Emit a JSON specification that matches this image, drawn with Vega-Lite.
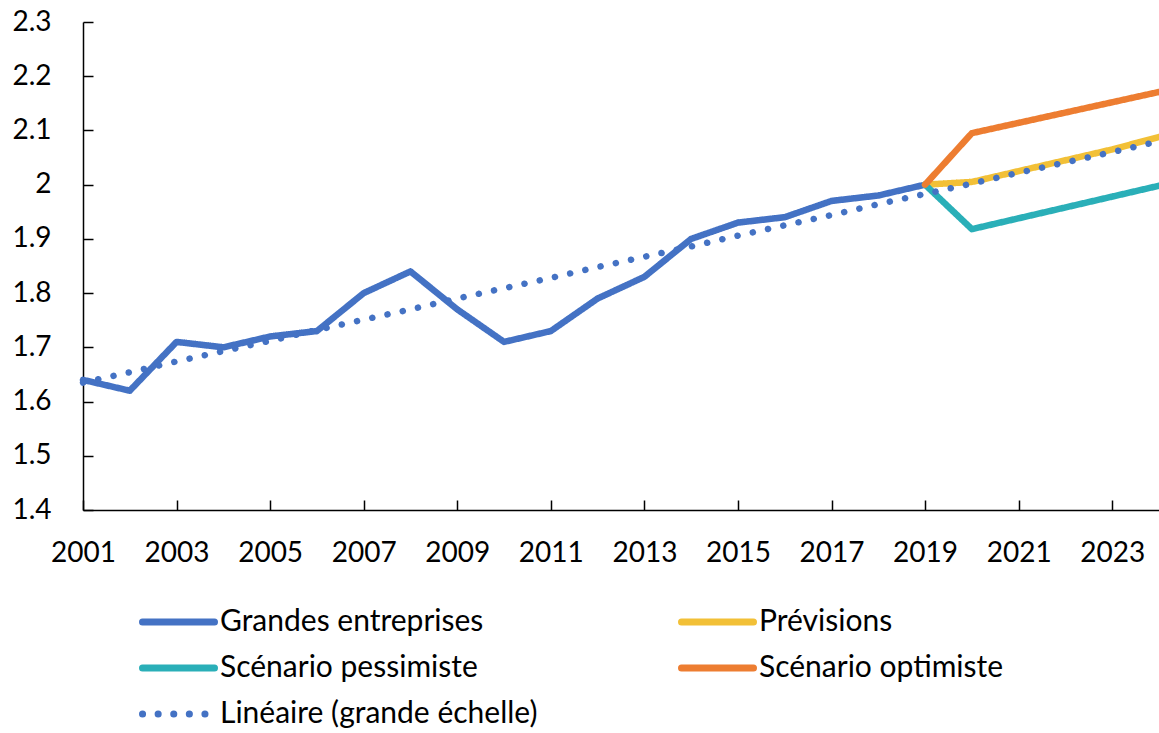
{
  "$schema": "https://vega.github.io/schema/vega-lite/v6.json",
  "width": 1076,
  "height": 488,
  "autosize": {"type": "none"},
  "padding": {"left": 83, "top": 22, "right": 0, "bottom": 223},
  "background": "white",
  "config": {
    "view": {"stroke": null},
    "font": "Lato",
    "axis": {"labelFont": "Lato", "labelFontSize": 28, "labelColor": "#000000", "domainColor": "#000000", "tickColor": "#000000", "domainWidth": 1.5, "tickWidth": 1.5, "grid": false, "title": null},
    "legend": {"labelFont": "Lato", "labelFontSize": 30, "labelColor": "#000000"}
  },
  "data": {
    "values": [
      {"annee": 2001, "valeur": 1.64, "serie": "Grandes entreprises"},
      {"annee": 2002, "valeur": 1.62, "serie": "Grandes entreprises"},
      {"annee": 2003, "valeur": 1.71, "serie": "Grandes entreprises"},
      {"annee": 2004, "valeur": 1.70, "serie": "Grandes entreprises"},
      {"annee": 2005, "valeur": 1.72, "serie": "Grandes entreprises"},
      {"annee": 2006, "valeur": 1.73, "serie": "Grandes entreprises"},
      {"annee": 2007, "valeur": 1.80, "serie": "Grandes entreprises"},
      {"annee": 2008, "valeur": 1.84, "serie": "Grandes entreprises"},
      {"annee": 2009, "valeur": 1.77, "serie": "Grandes entreprises"},
      {"annee": 2010, "valeur": 1.71, "serie": "Grandes entreprises"},
      {"annee": 2011, "valeur": 1.73, "serie": "Grandes entreprises"},
      {"annee": 2012, "valeur": 1.79, "serie": "Grandes entreprises"},
      {"annee": 2013, "valeur": 1.83, "serie": "Grandes entreprises"},
      {"annee": 2014, "valeur": 1.90, "serie": "Grandes entreprises"},
      {"annee": 2015, "valeur": 1.93, "serie": "Grandes entreprises"},
      {"annee": 2016, "valeur": 1.94, "serie": "Grandes entreprises"},
      {"annee": 2017, "valeur": 1.97, "serie": "Grandes entreprises"},
      {"annee": 2018, "valeur": 1.98, "serie": "Grandes entreprises"},
      {"annee": 2019, "valeur": 2.00, "serie": "Grandes entreprises"},
      {"annee": 2019, "valeur": 2.00, "serie": "Prévisions"},
      {"annee": 2020, "valeur": 2.005, "serie": "Prévisions"},
      {"annee": 2021, "valeur": 2.025, "serie": "Prévisions"},
      {"annee": 2022, "valeur": 2.045, "serie": "Prévisions"},
      {"annee": 2023, "valeur": 2.065, "serie": "Prévisions"},
      {"annee": 2024, "valeur": 2.088, "serie": "Prévisions"},
      {"annee": 2019, "valeur": 2.00, "serie": "Scénario pessimiste"},
      {"annee": 2020, "valeur": 1.918, "serie": "Scénario pessimiste"},
      {"annee": 2021, "valeur": 1.938, "serie": "Scénario pessimiste"},
      {"annee": 2022, "valeur": 1.958, "serie": "Scénario pessimiste"},
      {"annee": 2023, "valeur": 1.978, "serie": "Scénario pessimiste"},
      {"annee": 2024, "valeur": 1.998, "serie": "Scénario pessimiste"},
      {"annee": 2019, "valeur": 2.00, "serie": "Scénario optimiste"},
      {"annee": 2020, "valeur": 2.095, "serie": "Scénario optimiste"},
      {"annee": 2021, "valeur": 2.114, "serie": "Scénario optimiste"},
      {"annee": 2022, "valeur": 2.133, "serie": "Scénario optimiste"},
      {"annee": 2023, "valeur": 2.152, "serie": "Scénario optimiste"},
      {"annee": 2024, "valeur": 2.171, "serie": "Scénario optimiste"},
      {"annee": 2001, "valeur": 1.635, "serie": "Linéaire (grande échelle)"},
      {"annee": 2002, "valeur": 1.654, "serie": "Linéaire (grande échelle)"},
      {"annee": 2003, "valeur": 1.674, "serie": "Linéaire (grande échelle)"},
      {"annee": 2004, "valeur": 1.693, "serie": "Linéaire (grande échelle)"},
      {"annee": 2005, "valeur": 1.712, "serie": "Linéaire (grande échelle)"},
      {"annee": 2006, "valeur": 1.732, "serie": "Linéaire (grande échelle)"},
      {"annee": 2007, "valeur": 1.751, "serie": "Linéaire (grande échelle)"},
      {"annee": 2008, "valeur": 1.770, "serie": "Linéaire (grande échelle)"},
      {"annee": 2009, "valeur": 1.790, "serie": "Linéaire (grande échelle)"},
      {"annee": 2010, "valeur": 1.809, "serie": "Linéaire (grande échelle)"},
      {"annee": 2011, "valeur": 1.828, "serie": "Linéaire (grande échelle)"},
      {"annee": 2012, "valeur": 1.848, "serie": "Linéaire (grande échelle)"},
      {"annee": 2013, "valeur": 1.867, "serie": "Linéaire (grande échelle)"},
      {"annee": 2014, "valeur": 1.886, "serie": "Linéaire (grande échelle)"},
      {"annee": 2015, "valeur": 1.906, "serie": "Linéaire (grande échelle)"},
      {"annee": 2016, "valeur": 1.925, "serie": "Linéaire (grande échelle)"},
      {"annee": 2017, "valeur": 1.944, "serie": "Linéaire (grande échelle)"},
      {"annee": 2018, "valeur": 1.964, "serie": "Linéaire (grande échelle)"},
      {"annee": 2019, "valeur": 1.983, "serie": "Linéaire (grande échelle)"},
      {"annee": 2020, "valeur": 2.002, "serie": "Linéaire (grande échelle)"},
      {"annee": 2021, "valeur": 2.022, "serie": "Linéaire (grande échelle)"},
      {"annee": 2022, "valeur": 2.041, "serie": "Linéaire (grande échelle)"},
      {"annee": 2023, "valeur": 2.060, "serie": "Linéaire (grande échelle)"},
      {"annee": 2024, "valeur": 2.080, "serie": "Linéaire (grande échelle)"}
    ]
  },
  "encoding": {
    "x": {
      "field": "annee", "type": "quantitative",
      "scale": {"domain": [2001, 2024], "nice": false, "zero": false},
      "axis": {"values": [2001, 2003, 2005, 2007, 2009, 2011, 2013, 2015, 2017, 2019, 2021, 2023], "format": "d", "tickSize": -10, "labelPadding": 39, "labelFlush": false, "labelOverlap": false}
    },
    "y": {
      "field": "valeur", "type": "quantitative",
      "scale": {"domain": [1.4, 2.3], "nice": false, "zero": false},
      "axis": {"values": [1.4, 1.5, 1.6, 1.7, 1.8, 1.9, 2.0, 2.1, 2.2, 2.3], "format": ".2~f", "tickSize": -10, "labelPadding": 42, "labelFlush": false, "labelOverlap": false}
    },
    "color": {
      "field": "serie", "type": "nominal",
      "scale": {
        "domain": ["Grandes entreprises", "Scénario pessimiste", "Linéaire (grande échelle)", "Prévisions", "Scénario optimiste"],
        "range": ["#4472C4", "#2AAFB8", "#4472C4", "#F2C037", "#ED7D31"]
      },
      "legend": {
        "title": null, "orient": "none", "legendX": 56, "legendY": 580, "columns": 2,
        "symbolType": "stroke", "symbolSize": 5184, "symbolStrokeWidth": 7, "clipHeight": 40,
        "labelOffset": 2, "columnPadding": 140, "rowPadding": 6, "labelLimit": 600,
        "encode": {"symbols": {"update": {"strokeCap": {"value": "round"}}}}
      }
    },
    "strokeDash": {
      "field": "serie", "type": "nominal",
      "scale": {
        "domain": ["Grandes entreprises", "Scénario pessimiste", "Linéaire (grande échelle)", "Prévisions", "Scénario optimiste"],
        "range": [[1, 0], [1, 0], [0.1, 15.5], [1, 0], [1, 0]]
      },
      "legend": {
        "title": null, "orient": "none", "legendX": 56, "legendY": 580, "columns": 2,
        "symbolType": "stroke", "symbolSize": 5184, "symbolStrokeWidth": 7, "clipHeight": 40,
        "labelOffset": 2, "columnPadding": 140, "rowPadding": 6, "labelLimit": 600,
        "encode": {"symbols": {"update": {"strokeCap": {"value": "round"}}}}
      }
    }
  },
  "layer": [
    {
      "transform": [{"filter": "datum.serie !== 'Linéaire (grande échelle)'"}],
      "mark": {"type": "line", "strokeWidth": 6.5, "strokeCap": "round", "strokeJoin": "round"}
    },
    {
      "transform": [{"filter": "datum.serie === 'Linéaire (grande échelle)'"}],
      "mark": {"type": "line", "strokeWidth": 6.5, "strokeCap": "round", "strokeJoin": "round"}
    }
  ]
}
